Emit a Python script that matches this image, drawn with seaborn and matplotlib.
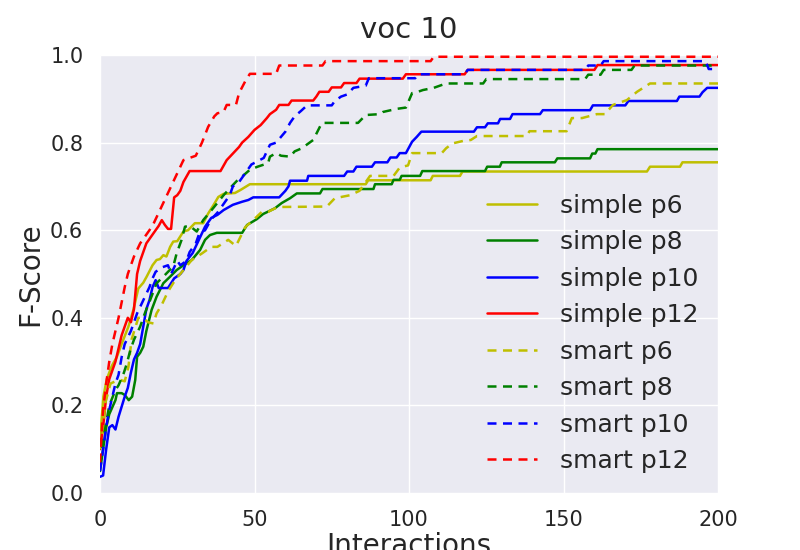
import matplotlib
matplotlib.use("Agg")
import matplotlib.pyplot as plt
import seaborn as sns
import pandas as pd

# ---- data (x = interactions, y = F-score) ----
simple_p6 = [(0, 0.12), (1.1, 0.22), (2.2, 0.26), (3.8, 0.29), (5.4, 0.31), (7, 0.34), (9.2, 0.38),
             (10.8, 0.418), (12.4, 0.467), (14, 0.48), (15.1, 0.494), (16.2, 0.509), (17, 0.52),
             (18.3, 0.532), (19.4, 0.534), (20.5, 0.543), (21.5, 0.54), (22.7, 0.562), (23.7, 0.574),
             (25, 0.575), (27, 0.597), (28.5, 0.60), (30.7, 0.616), (33.4, 0.616), (35, 0.638),
             (36.7, 0.657), (38.3, 0.676), (40, 0.683), (43.7, 0.685), (45.5, 0.692), (48.5, 0.705),
             (86, 0.705), (86.8, 0.714), (107, 0.714), (107.7, 0.724), (116.5, 0.724), (117.3, 0.734),
             (177, 0.734), (178, 0.745), (187.7, 0.745), (188.5, 0.755), (200, 0.755)]

simple_p8 = [(0, 0.05), (1, 0.1), (2, 0.15), (3, 0.18), (5, 0.212), (5.5, 0.228), (7, 0.228), (8, 0.224),
             (9.3, 0.212), (10.4, 0.22), (11.4, 0.258), (12, 0.311), (13, 0.32), (14, 0.334), (15, 0.37),
             (16.7, 0.418), (18.3, 0.448), (20.5, 0.479), (22.7, 0.494), (24.8, 0.509), (27, 0.52),
             (29.7, 0.532), (32.4, 0.555), (34, 0.578), (35.6, 0.589), (37.8, 0.594), (46, 0.594),
             (47.6, 0.612), (50.7, 0.625), (52.8, 0.637), (56.6, 0.65), (58.8, 0.662), (61.5, 0.673),
             (63.7, 0.684), (71.2, 0.684), (72, 0.694), (88.5, 0.694), (89, 0.705), (94.4, 0.705),
             (95, 0.715), (97, 0.715), (97.6, 0.724), (103.6, 0.724), (104.3, 0.735), (124.6, 0.735),
             (125.3, 0.745), (129.4, 0.745), (130, 0.755), (147.2, 0.755), (148, 0.764), (158.6, 0.764),
             (159.3, 0.775), (160.3, 0.775), (161, 0.785), (200, 0.785)]

simple_p10 = [(0, 0.037), (1, 0.04), (2, 0.1), (3, 0.15), (4, 0.155), (5, 0.145), (6, 0.174), (7, 0.197),
              (8, 0.22), (9, 0.24), (10, 0.275), (11, 0.305), (12, 0.32), (13, 0.34), (14, 0.38),
              (15, 0.42), (16, 0.44), (17, 0.47), (18, 0.486), (19, 0.468), (22, 0.468), (24, 0.49),
              (26, 0.5), (27, 0.509), (28, 0.53), (30, 0.548), (32, 0.578), (34, 0.608), (36, 0.628),
              (38, 0.635), (40, 0.646), (43, 0.658), (46, 0.665), (48, 0.669), (49.6, 0.675), (58, 0.675),
              (60, 0.69), (61, 0.70), (61.5, 0.713), (67, 0.713), (67.4, 0.724), (79, 0.724), (80, 0.734),
              (82, 0.734), (83, 0.745), (88, 0.745), (89, 0.755), (93, 0.755), (94, 0.766), (96, 0.766),
              (97, 0.776), (99, 0.776), (101, 0.802), (102.5, 0.813), (104, 0.825), (121, 0.825),
              (122, 0.835), (124.6, 0.835), (125.5, 0.844), (128.8, 0.844), (129.5, 0.854), (132.7, 0.854),
              (133.5, 0.865), (142.4, 0.865), (143.3, 0.874), (158.6, 0.874), (159.5, 0.885), (170, 0.885),
              (171, 0.895), (186.7, 0.895), (187.5, 0.905), (194, 0.905), (195, 0.915), (196.5, 0.925),
              (200, 0.925)]

simple_p12 = [(0, 0.1), (1, 0.15), (2, 0.22), (3, 0.26), (4, 0.28), (5, 0.3), (6, 0.33), (7, 0.36),
              (8, 0.38), (9, 0.40), (10, 0.39), (11, 0.42), (12, 0.5), (13, 0.53), (14, 0.55), (15, 0.57),
              (16, 0.58), (17, 0.59), (18, 0.6), (19, 0.61), (20, 0.623), (21, 0.612), (22, 0.603),
              (23, 0.603), (24, 0.675), (25, 0.68), (26, 0.69), (27, 0.71), (29, 0.735), (39, 0.735),
              (41, 0.76), (43, 0.775), (45, 0.79), (46, 0.80), (48, 0.813), (50, 0.829), (52, 0.84),
              (54, 0.856), (55, 0.865), (57, 0.875), (58, 0.886), (61, 0.886), (62, 0.896), (69, 0.896),
              (70, 0.905), (71, 0.916), (74, 0.916), (75, 0.926), (78, 0.926), (79, 0.936), (83, 0.936),
              (84, 0.946), (98, 0.946), (99, 0.956), (118, 0.956), (119, 0.966), (160, 0.966),
              (161, 0.977), (200, 0.977)]

smart_p6 = [(0, 0.1), (0.6, 0.12), (1.7, 0.205), (3.4, 0.25), (5, 0.255), (6.6, 0.258), (8, 0.255),
            (9.2, 0.288), (10.2, 0.35), (12.4, 0.40), (14, 0.40), (15.5, 0.39), (17.3, 0.387),
            (18.3, 0.41), (20, 0.43), (22, 0.46), (24.3, 0.486), (27, 0.509), (29.7, 0.532), (33, 0.547),
            (36, 0.562), (38, 0.562), (41.5, 0.578), (44, 0.564), (47, 0.607), (50, 0.626), (52.4, 0.642),
            (54.4, 0.642), (57.5, 0.653), (73.4, 0.654), (76, 0.673), (81, 0.68), (84, 0.69),
            (87.4, 0.724), (95, 0.724), (97, 0.743), (99.7, 0.748), (101, 0.776), (110.6, 0.776),
            (112, 0.787), (114, 0.798), (117.6, 0.804), (120, 0.806), (122, 0.815), (138, 0.815),
            (139, 0.826), (151, 0.826), (152.7, 0.856), (156, 0.856), (160.8, 0.865), (163.4, 0.865),
            (166, 0.886), (170.5, 0.897), (173.8, 0.916), (178, 0.935), (200, 0.935)]

smart_p8 = [(0, 0.068), (1, 0.12), (2, 0.16), (3, 0.2), (5, 0.235), (6, 0.246), (7.7, 0.274), (8.7, 0.296),
            (9.8, 0.326), (11, 0.35), (13, 0.38), (14.5, 0.41), (16.2, 0.44), (18.3, 0.479), (20.5, 0.494),
            (22, 0.505), (23.7, 0.517), (24.8, 0.547), (26.4, 0.578), (27.5, 0.608), (29, 0.61),
            (31.3, 0.597), (33.4, 0.623), (36, 0.645), (38.3, 0.665), (40, 0.68), (42.6, 0.70),
            (44.2, 0.712), (46.4, 0.725), (48.5, 0.738), (51, 0.745), (54.4, 0.753), (55, 0.768),
            (57, 0.776), (58.6, 0.77), (61.5, 0.768), (63, 0.78), (65.3, 0.787), (69, 0.806),
            (71.8, 0.845), (83.5, 0.845), (86, 0.863), (90.6, 0.865), (91.6, 0.87), (96, 0.877),
            (99, 0.88), (101, 0.913), (102.5, 0.915), (104.5, 0.92), (108, 0.925), (112, 0.935),
            (124, 0.935), (125, 0.945), (157, 0.945), (158, 0.955), (162, 0.955), (163, 0.966),
            (172, 0.966), (173, 0.976), (200, 0.976)]

smart_p10 = [(0, 0.05), (1, 0.1), (2, 0.15), (3, 0.19), (5, 0.25), (6, 0.27), (7, 0.31), (8, 0.34),
             (10, 0.37), (12, 0.41), (14, 0.44), (16, 0.47), (17, 0.49), (18, 0.505), (20, 0.515),
             (22, 0.52), (23, 0.50), (25, 0.53), (26, 0.52), (28, 0.53), (29, 0.55), (31, 0.57),
             (32, 0.59), (34, 0.6), (36, 0.625), (38, 0.64), (40, 0.66), (42, 0.68), (43, 0.70),
             (45, 0.71), (47, 0.73), (49, 0.75), (53, 0.765), (55, 0.795), (57, 0.80), (60, 0.825),
             (61.5, 0.845), (63, 0.86), (65, 0.872), (67, 0.885), (75, 0.885), (76, 0.895), (78, 0.905),
             (80, 0.91), (82, 0.925), (86, 0.93), (87, 0.947), (102, 0.947), (103, 0.956), (118, 0.956),
             (119, 0.966), (157, 0.966), (158, 0.976), (162, 0.976), (163, 0.986), (196, 0.986),
             (197, 0.968), (200, 0.968)]

smart_p12 = [(0, 0.07), (1, 0.19), (2, 0.25), (3, 0.3), (4, 0.34), (6, 0.4), (8, 0.47), (9, 0.5),
             (11, 0.54), (13, 0.57), (15, 0.59), (17, 0.61), (19, 0.64), (21, 0.67), (23, 0.7),
             (25, 0.73), (27, 0.76), (29, 0.765), (31, 0.77), (33, 0.8), (35, 0.836), (37, 0.86),
             (38, 0.867), (40, 0.87), (41, 0.886), (44, 0.886), (45, 0.913), (47, 0.94), (48.5, 0.957),
             (57, 0.957), (58, 0.976), (72, 0.976), (73, 0.986), (107, 0.986), (108, 0.996), (200, 0.996)]

labels = ["simple p6", "simple p8", "simple p10", "simple p12",
          "smart p6", "smart p8", "smart p10", "smart p12"]
series = [simple_p6, simple_p8, simple_p10, simple_p12,
          smart_p6, smart_p8, smart_p10, smart_p12]
colors = [(0.75, 0.75, 0.0), (0.0, 0.5, 0.0), (0.0, 0.0, 1.0), (1.0, 0.0, 0.0)] * 2
styles = ["solid"] * 4 + ["dashed"] * 4

sns.set_theme(style="darkgrid")
plt.rcParams["font.family"] = ["DejaVu Sans"]

fig = plt.figure(figsize=(8, 5.5), dpi=100)
ax = fig.add_axes([0.125, 0.1036, 0.7725, 0.7964])

for lab, data, col, ls in zip(labels, series, colors, styles):
    df = pd.DataFrame(data, columns=["x", "y"])
    kw = dict(dashes=(3.6, 2.6)) if ls == "dashed" else {}
    sns.lineplot(data=df, x="x", y="y", ax=ax, color=col, linewidth=1.8,
                 label=lab, estimator=None, sort=False, **kw)

ax.set_xlim(0, 200)
ax.set_ylim(0, 1.0)
ax.set_xticks([0, 50, 100, 150, 200])
ax.set_yticks([0.0, 0.2, 0.4, 0.6, 0.8, 1.0])
ax.set_yticklabels(["0.0", "0.2", "0.4", "0.6", "0.8", "1.0"])
ax.tick_params(labelsize=15, colors="#262626", pad=6)
ax.set_xlabel("Interactions", fontsize=20, color="#262626", labelpad=2)
ax.set_ylabel("F-Score", fontsize=20, color="#262626", labelpad=4)
ax.set_title("voc 10", fontsize=21, color="#262626", pad=12)

for s in ax.spines.values():
    s.set_visible(False)

ax.legend(loc="lower right", frameon=False, fontsize=18, handlelength=2.0,
          handletextpad=0.9, labelspacing=0.5, borderaxespad=0.4)

fig.savefig("out.png", dpi=100)
